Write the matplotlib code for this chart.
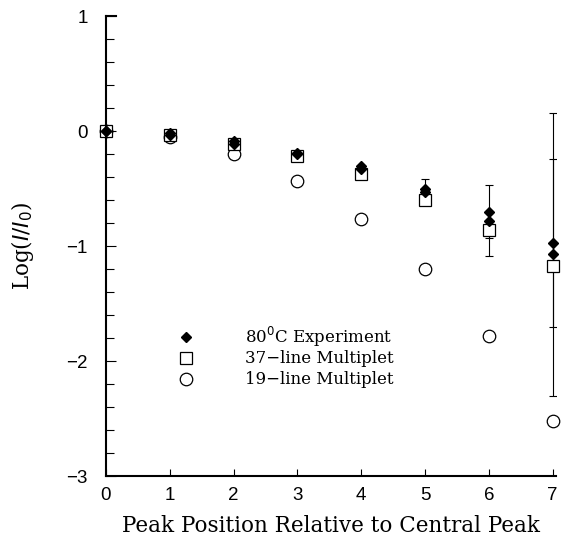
import matplotlib
matplotlib.use("Agg")
import matplotlib.pyplot as plt
import numpy as np

# data
positions = [0, 1, 2, 3, 4, 5, 6, 7]
exp_a = [0.0, -0.02, -0.09, -0.19, -0.30, -0.50, -0.70, -0.97]
exp_a_err = [0, 0, 0, 0, 0, 0.08, 0.0, 0.73]
exp_b = [0.0, -0.03, -0.11, -0.20, -0.33, -0.53, -0.78, -1.07]
exp_b_err = [0, 0, 0, 0, 0, 0.0, 0.31, 1.23]
mult37 = [0.0, -0.03, -0.11, -0.22, -0.37, -0.60, -0.86, -1.17]
mult37_err = [0, 0, 0, 0, 0, 0.04, 0.07, 0]
mult19 = [0.0, -0.05, -0.20, -0.43, -0.76, -1.20, -1.78, -2.52]

labels = ["80$^{0}$C Experiment", "37\u2212line Multiplet", "19\u2212line Multiplet"]
xticks = [0, 1, 2, 3, 4, 5, 6, 7]
yticks = [-3, -2, -1, 0, 1]
yticklabels = ["\u22123", "\u22122", "\u22121", "0", "1"]

serif = ["DejaVu Serif"]
sans = ["Liberation Sans"]

fig = plt.figure(figsize=(5.62, 5.40), dpi=100)
ax = fig.add_axes([0.1886, 0.1185, 0.989 - 0.1886, 0.970 - 0.1185])

ekw = dict(fmt="none", ecolor="black", elinewidth=0.8, capsize=3, capthick=0.8)
ax.errorbar(positions, exp_a, yerr=exp_a_err, **ekw)
ax.errorbar(positions, exp_b, yerr=exp_b_err, **ekw)
ax.errorbar(positions, mult37, yerr=mult37_err, **ekw)

mk_open = dict(ls="none", ms=9, mfc="white", mec="black", mew=0.9, clip_on=False)
ax.plot(positions, mult19, marker="o", **mk_open)
ax.plot(positions, mult37, marker="s", **mk_open)
ax.plot(positions, exp_a, ls="none", marker="D", ms=5.5, color="black", clip_on=False)
ax.plot(positions, exp_b, ls="none", marker="D", ms=5.5, color="black", clip_on=False)

ax.set_xlim(0, 7.05)
ax.set_ylim(-3, 1)
ax.set_xticks(xticks)
ax.set_yticks(yticks)
ax.set_yticks(np.arange(-3, 1.01, 0.2), minor=True)
ax.set_yticklabels(yticklabels)
ax.tick_params(axis="both", which="both", direction="in", color="black")
ax.tick_params(axis="x", which="major", length=5, width=0.8, pad=8)
ax.tick_params(axis="y", which="major", length=7, width=0.8, pad=13)
ax.tick_params(axis="y", which="minor", length=6, width=0.8)
for lab in ax.get_xticklabels() + ax.get_yticklabels():
    lab.set_fontfamily(sans)
    lab.set_fontsize(13.5)

ax.spines["top"].set_visible(False)
ax.spines["right"].set_visible(False)
ax.spines["left"].set_linewidth(1.5)
ax.spines["bottom"].set_linewidth(1.5)
# short cap at top-left corner
ax.plot([0, 0.15], [1, 1], color="black", lw=1.5, clip_on=False)

ax.set_xlabel("Peak Position Relative to Central Peak", fontfamily=serif, fontsize=15.5, labelpad=8)
ax.set_ylabel("Log($\\mathit{I/I}_0$)", fontfamily=serif, fontsize=15.5, labelpad=22)

# legend (drawn manually as in the figure)
leg_y = [-1.79, -1.975, -2.16]
leg_x_marker = 1.25
leg_x_text = 2.18
ax.plot([leg_x_marker], [leg_y[0]], ls="none", marker="D", ms=5.5, color="black")
ax.plot([leg_x_marker], [leg_y[1]], marker="s", **mk_open)
ax.plot([leg_x_marker], [leg_y[2]], marker="o", **mk_open)
for yy, t in zip(leg_y, labels):
    ax.text(leg_x_text, yy, t, fontfamily=serif, fontsize=12, va="center", ha="left")

fig.savefig("out.png", dpi=100)
